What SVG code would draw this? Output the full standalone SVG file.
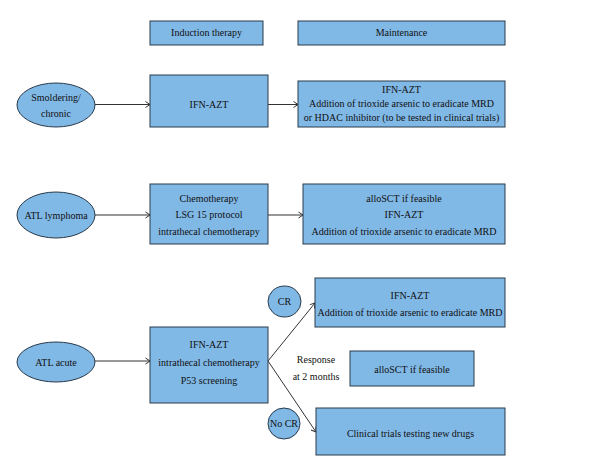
<svg xmlns="http://www.w3.org/2000/svg" width="600" height="476" viewBox="0 0 600 476">
<style>
.b{fill:#80b8e6;stroke:#2a3a4a;stroke-width:1}
.t{font-family:'Liberation Serif','DejaVu Serif',serif;font-size:10px;fill:#111;text-anchor:middle}
.c{fill:none;stroke:#333;stroke-width:1;marker-end:url(#ah)}
</style>
<defs>
<marker id="ah" viewBox="0 0 6 8" refX="5.5" refY="4" markerWidth="6" markerHeight="8" markerUnits="userSpaceOnUse" orient="auto">
<path d="M1,1 L5.5,4 L1,7" fill="none" stroke="#333" stroke-width="1"/>
</marker>
</defs>
<rect width="600" height="476" fill="#fff"/>
<g id="connectors">
<line class="c" x1="95" y1="104.5" x2="150" y2="104.5"/>
<line class="c" x1="268" y1="104.5" x2="298" y2="104.5"/>
<line class="c" x1="95" y1="215" x2="150" y2="215"/>
<line class="c" x1="268" y1="215" x2="303" y2="215"/>
<line class="c" x1="95" y1="361" x2="150" y2="361"/>
<line class="c" x1="268" y1="361" x2="315" y2="303"/>
<line class="c" x1="268" y1="361" x2="316" y2="432"/>
</g>
<g id="hdr-induction"><rect class="b" x="150" y="21" width="113" height="24"/><text class="t" x="206.5" y="36">Induction therapy</text></g>
<g id="hdr-maintenance"><rect class="b" x="298" y="21" width="207" height="24"/><text class="t" x="401.5" y="36">Maintenance</text></g>
<g id="smoldering"><ellipse class="b" cx="56" cy="105" rx="39" ry="22"/><text class="t" x="56" y="100.5">Smoldering/</text><text class="t" x="56" y="116.5">chronic</text></g>
<g id="ind1"><rect class="b" x="150" y="75" width="118" height="52"/><text class="t" x="209" y="107.5">IFN-AZT</text></g>
<g id="maint1"><rect class="b" x="298" y="81" width="207" height="46"/><text class="t" x="401.5" y="92.5">IFN-AZT</text><text class="t" x="401.5" y="106.5">Addition of trioxide arsenic to eradicate MRD</text><text class="t" x="401.5" y="120.5">or HDAC inhibitor (to be tested in clinical trials)</text></g>
<g id="lymphoma"><ellipse class="b" cx="56" cy="215" rx="39" ry="23"/><text class="t" x="56" y="218.5">ATL lymphoma</text></g>
<g id="ind2"><rect class="b" x="150" y="184" width="118" height="60"/><text class="t" x="209" y="201.5">Chemotherapy</text><text class="t" x="209" y="217.5">LSG 15 protocol</text><text class="t" x="209" y="234.5">intrathecal chemotherapy</text></g>
<g id="maint2"><rect class="b" x="303" y="184" width="202" height="60"/><text class="t" x="404" y="201.5">alloSCT if feasible</text><text class="t" x="404" y="217.5">IFN-AZT</text><text class="t" x="404" y="234.5">Addition of trioxide arsenic to eradicate MRD</text></g>
<g id="acute"><ellipse class="b" cx="56" cy="362" rx="39" ry="20"/><text class="t" x="56" y="365.5">ATL acute</text></g>
<g id="ind3"><rect class="b" x="150" y="327" width="118" height="76"/><text class="t" x="209" y="347.5">IFN-AZT</text><text class="t" x="209" y="365.5">intrathecal chemotherapy</text><text class="t" x="209" y="383.5">P53 screening</text></g>
<g id="cr"><ellipse class="b" cx="284.5" cy="301.5" rx="16.5" ry="15.5"/><text class="t" x="284.5" y="305">CR</text></g>
<g id="maint-cr"><rect class="b" x="315" y="278" width="190" height="49"/><text class="t" x="410" y="298.5">IFN-AZT</text><text class="t" x="410" y="315.5">Addition of trioxide arsenic to eradicate MRD</text></g>
<g id="response"><text class="t" x="316" y="362.5">Response</text><text class="t" x="316" y="379.5">at 2 months</text></g>
<g id="allo"><rect class="b" x="350" y="351" width="124" height="35"/><text class="t" x="412" y="372.5">alloSCT if feasible</text></g>
<g id="nocr"><ellipse class="b" cx="284" cy="423.5" rx="16" ry="15.5"/><text class="t" x="284" y="427">No CR</text></g>
<g id="trials"><rect class="b" x="316" y="408" width="189" height="47"/><text class="t" x="410.5" y="436.5">Clinical trials testing new drugs</text></g>
</svg>
